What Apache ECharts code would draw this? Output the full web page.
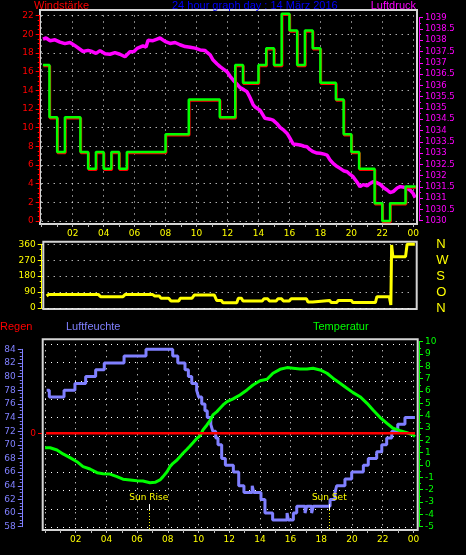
<!DOCTYPE html>
<html><head><meta charset="utf-8">
<script src="https://cdn.jsdelivr.net/npm/echarts@6/dist/echarts.min.js"></script>
<style>html,body{margin:0;padding:0;background:#000}#c{width:466px;height:555px}</style>
</head><body><div id="c"></div><script>
// ---- data ----
const windTimes = [0.08,0.5,1,1.5,2.5,3,3.5,4,4.5,5,5.5,8,9.5,11.5,12.5,13,14,14.5,15,15.5,16,16.5,17,17.5,18,19,19.5,20,20.5,21.5,22,22.5,23.5,24.15];
const windSpeed = [16.7,11.1,7.4,11.1,7.4,5.6,7.4,5.6,7.4,5.6,7.4,9.3,13.0,11.1,16.7,14.8,16.7,18.5,16.7,22.2,20.4,16.7,20.4,18.5,14.8,13.0,9.3,7.4,5.6,1.9,0,1.9,3.7,3.7];
const pressTimes = [0.08,0.28,0.54,0.86,1.18,1.5,1.83,2.15,2.47,2.67,2.99,3.25,3.51,3.77,4.09,4.41,4.73,5.05,5.38,5.7,5.96,6.16,6.54,6.74,6.87,7.19,7.45,7.64,7.96,8.29,8.61,8.93,9.26,9.59,9.9,10.23,10.55,10.68,10.88,11.07,11.33,11.52,11.78,11.97,12.17,12.36,12.62,12.81,13.07,13.26,13.46,13.65,13.78,14.1,14.42,14.75,14.94,15.2,15.39,15.65,15.85,16.04,16.24,16.49,16.69,16.94,17.13,17.33,17.53,17.78,17.98,18.24,18.43,18.62,18.82,19.08,19.27,19.53,19.72,19.92,20.11,20.37,20.56,20.76,21.02,21.21,21.41,21.6,21.86,22.11,22.31,22.5,22.7,22.96,23.15,23.41,23.6,23.8,23.99,24.12];
const pressValues = [1038.05,1038.1,1037.98,1038.02,1037.92,1037.85,1037.9,1037.76,1037.6,1037.5,1037.55,1037.5,1037.42,1037.54,1037.4,1037.38,1037.45,1037.38,1037.27,1037.49,1037.5,1037.64,1037.75,1037.7,1038.0,1037.98,1038.05,1038.1,1037.95,1037.86,1037.9,1037.8,1037.72,1037.69,1037.65,1037.57,1037.55,1037.46,1037.35,1037.12,1036.95,1036.83,1036.7,1036.6,1036.4,1036.24,1036.05,1035.9,1035.8,1035.72,1035.45,1035.15,1035.04,1034.9,1034.54,1034.5,1034.46,1034.3,1034.14,1034.0,1033.87,1033.65,1033.4,1033.38,1033.36,1033.3,1033.28,1033.15,1033.06,1033.0,1032.99,1032.95,1032.91,1032.7,1032.54,1032.4,1032.32,1032.2,1032.17,1032.05,1031.95,1031.7,1031.51,1031.6,1031.55,1031.65,1031.73,1031.7,1031.61,1031.45,1031.36,1031.25,1031.29,1031.45,1031.51,1031.48,1031.44,1031.35,1031.21,1031.02];
const dirTimes = [0.32,0.45,3.65,3.8,5.25,5.4,7.15,7.3,7.6,7.7,8.2,8.35,8.85,8.95,9.7,9.85,11.15,11.3,11.6,11.7,12.6,12.7,12.9,13.0,14.25,14.35,14.6,14.7,15.15,15.25,15.5,15.6,16.0,16.1,17.1,17.2,17.5,17.6,18.6,18.7,19.05,19.15,20.0,20.1,21.55,21.65,22.45,22.55,22.6,22.68,23.5,23.6,24.1];
const dirValues = [68,77,77,64,64,77,77,68,68,55,55,40,40,55,55,73,73,43,43,30,30,55,55,40,40,52,52,40,40,52,52,40,40,52,52,34,34,43,43,31,31,43,43,31,31,64,64,17,356,290,290,360,360];
const humTimes = [0.11,0.28,1.24,1.95,2.65,3.3,3.86,5.15,6.58,8.32,8.65,9.12,9.34,9.56,9.88,10.01,10.21,10.42,10.57,10.8,10.93,11.12,11.27,11.51,11.75,12.27,12.62,12.96,13.5,13.6,14.07,14.33,14.83,15.77,15.85,16.18,16.4,16.94,17.05,17.37,17.48,18.57,18.89,19.0,19.54,19.98,20.74,21.06,21.61,21.94,22.26,22.59,22.98,23.45,24.1];
const humValues = [78,77,78,79,80,81,82,83,84,83,82,81,80,79,78,77,76,75,74,73,72,71,70,68,67,66,64,63,64,63,62,60,59,60,59,60,61,60,61,60,61,62,63,64,65,66,67,68,69,70,71,72,73,74,74];
const tempTimes = [0,0.33,0.78,1.17,1.63,2.08,2.48,2.93,3.39,3.78,4.23,4.69,5.08,5.54,5.99,6.38,6.84,7.17,7.49,7.69,7.95,8.14,8.34,8.6,8.79,8.99,9.25,9.45,9.64,9.9,10.1,10.29,10.55,10.75,10.94,11.2,11.4,11.6,11.86,12.25,12.7,13.16,13.55,14.01,14.46,14.85,15.31,15.77,16.16,16.61,17.07,17.46,17.92,18.37,18.76,19.22,19.67,20.07,20.52,20.98,21.37,21.82,22.28,22.67,23.13,23.58,23.97,24.1];
const tempValues = [1.41,1.4,1.22,0.9,0.6,0.27,-0.13,-0.32,-0.62,-0.7,-0.73,-0.94,-1.15,-1.21,-1.27,-1.29,-1.43,-1.4,-1.21,-0.94,-0.54,-0.13,0.14,0.41,0.68,0.95,1.28,1.55,1.81,2.17,2.36,2.84,3.25,3.6,4.06,4.33,4.6,4.87,5.14,5.36,5.68,6.09,6.49,6.84,6.95,7.44,7.76,7.9,7.85,7.79,7.79,7.85,7.71,7.44,7.04,6.63,6.22,5.87,5.54,5.0,4.46,3.87,3.38,2.98,2.79,2.62,2.44,2.3];
const rainTimes = [0.07,24.2];
const rainValues = [0,0];
const sunRise = 6.76;
const sunSet = 18.52;
const compassLabels = ['N','O','S','W','N'];

// ---- chart ----
const chart = echarts.init(document.getElementById('c'), null, {renderer:'canvas'});
const pairs = (xs, ys) => xs.map((x,i)=>[x, ys[i]]);
const dotted = {show:true, lineStyle:{color:'#ffffff', type:[1,5], width:1}};
const hourFmt = v => { const h = v % 24; return (h<10?'0':'') + h; };
const tf = {fontFamily:'DejaVu Sans', fontSize:9};
const hx = (gi,min,max) => ({gridIndex:gi, type:'value', show:false, min, max});
const frame = (l,t,w,h) => ({left:l, top:t, width:w, height:h, show:true, borderColor:'#d4d4d4', borderWidth:2, backgroundColor:'transparent', outerBoundsMode:'none'});
const dg = (l,t,w,h) => ({left:l, top:t, width:w, height:h, outerBoundsMode:'none'});
const colAxis = (c) => ({axisLine:{show:true, onZero:false, lineStyle:{color:c}}, axisTick:{show:true, length:4, lineStyle:{color:c}}});
const ttl = (text,left,top,color,extra) => Object.assign({text, left, top, padding:0, textStyle:{color, fontSize:11, fontWeight:'normal', fontFamily:'Liberation Sans'}}, extra||{});

const timeAxis = (gi, off) => ({gridIndex:gi, type:'value', min:0, max:24, interval:2, position:'bottom', offset:off,
  axisLine:{show:false, onZero:false},
  axisTick:{show:true, length:3, lineStyle:{color:'#bbbbbb'}},
  minorTick:{show:true, splitNumber:2, length:3, lineStyle:{color:'#bbbbbb'}},
  axisLabel:Object.assign({color:'#ffff00', margin:5, formatter:hourFmt, showMinLabel:false}, tf),
  splitLine:dotted});

chart.setOption({
  animation:false,
  backgroundColor:'#000000',
  textStyle:{fontFamily:'Liberation Sans'},
  title:[
    ttl('Windstärke',34,0,'#ff0000'),
    ttl('24 hour graph day : 14 März 2016',172,0,'#0000ff'),
    ttl('Luftdruck',null,0,'#ff00ff',{right:50}),
    ttl('Regen',0,321,'#ff0000'),
    ttl('Luftfeuchte',66,321,'#8080ff'),
    ttl('Temperatur',313,321,'#00ff00')
  ],
  grid:[
    frame(40,10,377,214),
    dg(41.7,15.5,371.6,205.5),
    dg(41.7,17.7,371.6,203),
    frame(43.3,241.7,373.4,67.3),
    dg(41.7,244.3,371.6,63.7),
    frame(42.7,339.3,375,190.7),
    dg(45,344.3,368.4,183),
    dg(45,349.3,368.4,177.4),
    dg(45,341.7,368.4,185),
    dg(45,339.3,368.4,94)
  ],
  xAxis:[
    hx(0,0,1),
    timeAxis(1,3),
    hx(2,0,24),
    hx(3,0,1),
    hx(4,0,24),
    hx(5,-0.15,24.28),
    timeAxis(6,2.7),
    hx(7,0,24),
    hx(8,0,24),
    hx(9,0,24)
  ],
  yAxis:[
    hx(0,0,1),
    Object.assign({gridIndex:1, type:'value', position:'left', min:0, max:22, interval:2, offset:2,
      minorTick:{show:true, splitNumber:4, length:2, lineStyle:{color:'#ff0000'}},
      axisLabel:Object.assign({color:'#ff0000', margin:6}, tf), splitLine:dotted}, colAxis('#ff0000')),
    Object.assign({gridIndex:2, type:'value', position:'right', min:1030, max:1039, interval:0.5, offset:5.7,
      minorTick:{show:true, splitNumber:2, length:2, lineStyle:{color:'#ff00ff'}},
      axisLabel:Object.assign({color:'#ff00ff', margin:6, formatter:v=>String(v)}, tf, {fontSize:8.5}), splitLine:{show:false}}, colAxis('#ff00ff')),
    hx(3,0,1),
    Object.assign({gridIndex:4, type:'value', position:'left', min:0, max:360, interval:90, offset:0,
      minorTick:{show:true, splitNumber:3, length:2, lineStyle:{color:'#ffff00'}},
      axisLabel:Object.assign({color:'#ffff00', margin:6}, tf), splitLine:dotted}, colAxis('#ffff00')),
    {gridIndex:4, type:'value', position:'right', min:0, max:360, interval:90,
      axisLine:{show:false}, axisTick:{show:false}, splitLine:{show:false},
      axisLabel:{color:'#ffff00', fontSize:13, fontFamily:'Liberation Sans', margin:23, formatter:v=>compassLabels[Math.round(v/90)]}},
    hx(5,0,1),
    {gridIndex:6, type:'value', min:0, max:10, interval:1, axisLine:{show:false}, axisTick:{show:false}, axisLabel:{show:false}, splitLine:dotted},
    Object.assign({gridIndex:7, type:'value', position:'left', min:58, max:84, interval:2, offset:23.2,
      minorTick:{show:true, splitNumber:4, length:2, lineStyle:{color:'#8080ff'}},
      axisLabel:Object.assign({color:'#8080ff', margin:6}, tf), splitLine:{show:false}}, colAxis('#8080ff')),
    Object.assign({gridIndex:8, type:'value', position:'right', min:-5, max:10, interval:1, offset:5.6,
      minorTick:{show:true, splitNumber:2, length:2, lineStyle:{color:'#00ff00'}},
      axisLabel:Object.assign({color:'#00ff00', margin:6}, tf), splitLine:{show:false}}, colAxis('#00ff00')),
    {gridIndex:9, type:'value', position:'left', min:0, max:1, offset:3,
      axisLine:{show:false, onZero:false},
      axisTick:{show:true, length:4, customValues:[0], lineStyle:{color:'#ff0000'}},
      axisLabel:Object.assign({color:'#ff0000', margin:6, customValues:[0]}, tf), splitLine:{show:false}}
  ],
  series:[
    {type:'line', xAxisIndex:2, yAxisIndex:2, data:pairs(pressTimes,pressValues), symbol:'none', clip:false,
      lineStyle:{color:'#ff00ff', width:3.5}},
    {type:'line', xAxisIndex:1, yAxisIndex:1, step:'end', data:pairs(windTimes,windSpeed), symbol:'none', clip:false,
      lineStyle:{color:'#00ff00', width:2.5, shadowColor:'#ff0000', shadowOffsetX:0.5, shadowOffsetY:1, shadowBlur:0}},
    {type:'line', xAxisIndex:4, yAxisIndex:4, data:pairs(dirTimes,dirValues), symbol:'none', clip:false,
      lineStyle:{color:'#ffff00', width:3}},
    {type:'line', xAxisIndex:7, yAxisIndex:8, step:'end', data:pairs(humTimes,humValues), symbol:'none', clip:false,
      lineStyle:{color:'#8080ff', width:3}},
    {type:'line', xAxisIndex:8, yAxisIndex:9, data:pairs(tempTimes,tempValues), symbol:'none', clip:false,
      lineStyle:{color:'#00ff00', width:3}},
    {type:'line', xAxisIndex:9, yAxisIndex:10, data:pairs(rainTimes,rainValues), symbol:'none', clip:false,
      lineStyle:{color:'#ff0000', width:2.5}},
    {type:'line', xAxisIndex:5, yAxisIndex:6, data:[], symbol:'none',
      markLine:{symbol:'none', silent:true, animation:false, data:[
        [{coord:[sunRise,0.136], lineStyle:{color:'#ffffff', type:'solid', width:1}, label:{show:true, position:'start', formatter:'Sun Rise', color:'#ffff00', fontSize:9, fontFamily:'DejaVu Sans', distance:2}}, {coord:[sunRise,0.105]}],
        [{coord:[sunRise,0.105], lineStyle:{color:'#ffff00', type:[1,2], width:1}, label:{show:false}}, {coord:[sunRise,0]}],
        [{coord:[sunSet,0.136], lineStyle:{color:'#ffffff', type:'solid', width:1}, label:{show:true, position:'start', formatter:'Sun Set', color:'#ffff00', fontSize:9, fontFamily:'DejaVu Sans', distance:2}}, {coord:[sunSet,0.105]}],
        [{coord:[sunSet,0.105], lineStyle:{color:'#ffff00', type:[1,2], width:1}, label:{show:false}}, {coord:[sunSet,0]}]
      ]}}
  ]
});
</script></body></html>
